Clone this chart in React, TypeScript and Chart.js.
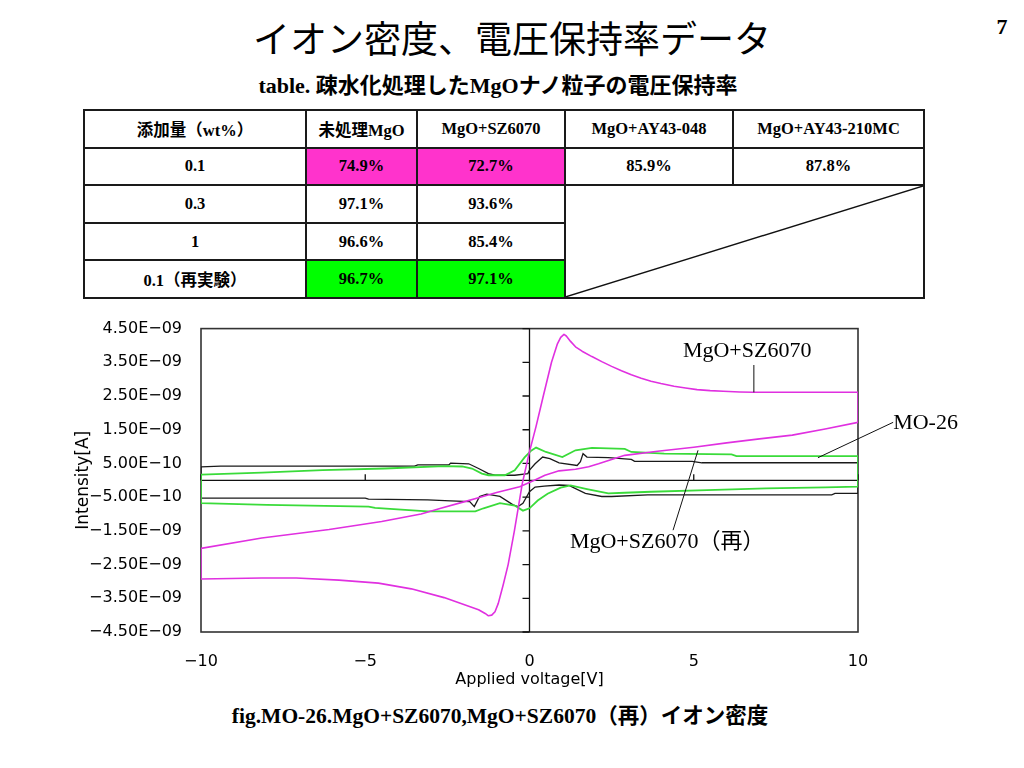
import React, { useEffect, useRef } from "react";
import { Chart, registerables } from "chart.js";

Chart.register(...registerables);

// ---------- slide texts ----------
const slideTitle = "イオン密度、電圧保持率データ";
const pageNumber = "7";
const tableTitle = "table. 疎水化処理したMgOナノ粒子の電圧保持率";
const figCaption = "fig.MO-26.MgO+SZ6070,MgO+SZ6070（再）イオン密度";

// ---------- table data ----------
const tableHeader = ["添加量（wt%）", "未処理MgO", "MgO+SZ6070", "MgO+AY43-048", "MgO+AY43-210MC"];
const rowLabels = ["0.1", "0.3", "1", "0.1（再実験）"];
const rowUntreated = ["74.9%", "97.1%", "96.6%", "96.7%"];
const rowSZ6070 = ["72.7%", "93.6%", "85.4%", "97.1%"];
const rowAY048 = ["85.9%"];
const rowAY210 = ["87.8%"];
const rowFill = ["#FF33CC", "#FFFFFF", "#FFFFFF", "#00FF00"];

// ---------- chart data (voltage in V, current in nA) ----------
// MgO+SZ6070 (magenta) loop
const magentaV = [
  -10, -8.15, -7.1, -5.8, -4.6, -3.6, -2.6, -1.55, -1.35, -1.25, -1.15, -1.05, -0.95, -0.8, -0.65, -0.46, -0.22, 0,
  0.2, 0.42, 0.67, 0.85, 0.95, 1.05, 1.12, 1.25, 1.4, 1.6, 1.9, 2.2, 2.5, 2.8, 3.1, 3.4, 3.7, 4.0, 4.4, 4.75, 5.1,
  5.5, 5.9, 6.4, 6.8, 10,
  10, 9, 8, 7, 6, 5, 3.9, 2.9, 2.5, 2.1, 1.8, 1.4, 0.9, 0.47, 0.15, -0.3, -1.0, -1.5, -2.0, -2.7, -3.3, -4.5, -6.1,
  -8.15, -10, -10,
];
const magentaI = [
  -2.93, -2.9, -2.9, -2.96, -3.05, -3.22, -3.48, -3.84, -3.95, -4.02, -4.0, -3.9, -3.65, -3.1, -2.5, -1.5, -0.1,
  0.85, 1.6, 2.5, 3.5, 4.05, 4.24, 4.33, 4.28, 4.12, 3.96, 3.83, 3.67, 3.52, 3.38, 3.25, 3.13, 3.03, 2.94, 2.87,
  2.79, 2.74, 2.69, 2.66, 2.64, 2.62, 2.61, 2.61,
  1.72, 1.52, 1.34, 1.23, 1.11, 0.98, 0.86, 0.74, 0.62, 0.49, 0.4, 0.33, 0.28, 0.15, 0.0, -0.19, -0.36, -0.5, -0.64,
  -0.83, -1.0, -1.22, -1.46, -1.71, -2.02, -2.93,
];

// MO-26 (black) loop
const blackV = [
  -10, -9.4, -3.5, -3.4, -2.45, -2.4, -1.85, -1.55, -1.25, -1.05, -0.45, -0.05, 0.0, 0.17, 0.4, 0.62, 0.9, 1.45,
  1.55, 1.63, 1.75, 2.4, 3.1, 3.2, 4.95, 5.25, 10,
  10, 9.3, 9.2, 3.6, 2.5, 2.2, 1.7, 1.2, 0.9, 0.45, 0.17, 0.0, -0.2, -0.35, -0.5, -0.9, -1.3, -1.52, -1.68, -1.82,
  -2.4, -3.1, -4.9, -5.0, -10, -10,
];
const blackI = [
  0.4, 0.42, 0.42, 0.46, 0.46, 0.51, 0.49, 0.35, 0.2, 0.15, 0.15, 0.2, 0.3, 0.49, 0.69, 0.64, 0.52, 0.44, 0.55,
  0.79, 0.69, 0.67, 0.62, 0.56, 0.56, 0.52, 0.52,
  -0.39, -0.39, -0.43, -0.43, -0.48, -0.48, -0.39, -0.15, -0.14, -0.17, -0.2, -0.34, -0.68, -0.78, -0.73, -0.48,
  -0.41, -0.48, -0.78, -0.63, -0.61, -0.58, -0.56, -0.53, -0.53, 0.4,
];

// MgO+SZ6070(再) (green) loop
const greenV = [
  -10, -8.15, -6.3, -4.4, -2.6, -2.05, -1.75, -1.45, -1.25, -0.75, -0.45, -0.15, 0.05, 0.2, 0.5, 1.0, 1.4, 1.9,
  2.9, 3.1, 4.1, 6.15, 6.3, 10,
  10, 9, 7.2, 5.4, 3.7, 2.9, 2.4, 1.75, 1.25, 0.95, 0.55, 0.25, 0, -0.2, -0.45, -0.9, -1.4, -1.65, -2.3, -3.1, -4.7,
  -4.9, -8.0, -10, -10,
];
const greenI = [
  0.17, 0.23, 0.3, 0.35, 0.42, 0.41, 0.35, 0.2, 0.15, 0.15, 0.3, 0.68, 0.88, 0.97, 0.84, 0.69, 0.89, 0.96, 0.93,
  0.84, 0.79, 0.77, 0.72, 0.72,
  -0.19, -0.21, -0.24, -0.29, -0.34, -0.37, -0.39, -0.26, -0.15, -0.22, -0.4, -0.6, -0.83, -0.9, -0.75, -0.68,
  -0.83, -0.92, -0.92, -0.92, -0.82, -0.78, -0.73, -0.68, 0.17,
];

// axes
const xTickValues = [-10, -5, 0, 5, 10];
const xTickLabels = ["\u221210", "\u22125", "0", "5", "10"];
const yTickValues = [4.5, 3.5, 2.5, 1.5, 0.5, -0.5, -1.5, -2.5, -3.5, -4.5];
const yTickLabels = [
  "4.50E\u221209", "3.50E\u221209", "2.50E\u221209", "1.50E\u221209", "5.00E\u221210",
  "\u22125.00E\u221210", "\u22121.50E\u221209", "\u22122.50E\u221209", "\u22123.50E\u221209", "\u22124.50E\u221209",
];
const xTitle = "Applied voltage[V]";
const yTitle = "Intensity[A]";

// annotations (data coordinates)
const annotationLabels = ["MgO+SZ6070", "MO-26", "MgO+SZ6070（再）"];
const annotationV = [4.67, 11.07, 1.23];
const annotationI = [3.83, 1.69, -1.83];
const leaderFromV = [6.83, 11.07, 4.37];
const leaderFromI = [3.42, 1.72, -1.48];
const leaderToV = [6.83, 8.78, 5.13];
const leaderToI = [2.61, 0.67, 0.89];

const SERIF = "'Liberation Serif', 'Noto Sans CJK JP', serif";
const GOTHIC = "'Noto Sans CJK JP', sans-serif";
const AXISFONT = "'DejaVu Sans', sans-serif";

const toPoints = (vs: number[], is: number[]) => vs.map((v, k) => ({ x: v, y: is[k] }));

const framePlugin = {
  id: "framePlugin",
  beforeDatasetsDraw(chart: any) {
    const { ctx, chartArea: a, scales } = chart;
    const x = scales.x;
    const y = scales.y;
    ctx.save();
    ctx.strokeStyle = "#333";
    ctx.lineWidth = 1.6;
    ctx.strokeRect(a.left, a.top, a.right - a.left, a.bottom - a.top);
    const x0 = x.getPixelForValue(0);
    const y0 = y.getPixelForValue(0);
    ctx.strokeStyle = "#111";
    ctx.lineWidth = 1.3;
    ctx.beginPath();
    ctx.moveTo(x0, a.top);
    ctx.lineTo(x0, a.bottom);
    ctx.moveTo(a.left, y0);
    ctx.lineTo(a.right, y0);
    yTickValues.forEach((v) => {
      const py = y.getPixelForValue(v);
      ctx.moveTo(x0 - 7, py);
      ctx.lineTo(x0, py);
    });
    xTickValues.forEach((v) => {
      const px = x.getPixelForValue(v);
      ctx.moveTo(px, y0 - 6);
      ctx.lineTo(px, y0);
    });
    ctx.stroke();
    ctx.restore();
  },
  afterDatasetsDraw(chart: any) {
    const { ctx, scales } = chart;
    const x = scales.x;
    const y = scales.y;
    ctx.save();
    ctx.strokeStyle = "#111";
    ctx.lineWidth = 1;
    ctx.beginPath();
    annotationLabels.forEach((_, k) => {
      ctx.moveTo(x.getPixelForValue(leaderFromV[k]), y.getPixelForValue(leaderFromI[k]));
      ctx.lineTo(x.getPixelForValue(leaderToV[k]), y.getPixelForValue(leaderToI[k]));
    });
    ctx.stroke();
    ctx.fillStyle = "#000";
    ctx.font = `22px ${SERIF}`;
    ctx.textAlign = "left";
    ctx.textBaseline = "middle";
    annotationLabels.forEach((t, k) => {
      ctx.fillText(t, x.getPixelForValue(annotationV[k]), y.getPixelForValue(annotationI[k]));
    });
    ctx.restore();
  },
};

function IVChart() {
  const ref = useRef<HTMLCanvasElement | null>(null);
  useEffect(() => {
    if (!ref.current) return;
    const tickFont = { family: AXISFONT, size: 16 };
    const chart = new Chart(ref.current, {
      type: "scatter",
      data: {
        datasets: [
          {
            data: toPoints(magentaV, magentaI),
            borderColor: "#E030E0",
            borderWidth: 1.6,
            pointRadius: 0,
            showLine: true,
            fill: false,
            borderJoinStyle: "round",
          },
          {
            data: toPoints(greenV, greenI),
            borderColor: "#3ADB3A",
            borderWidth: 1.8,
            pointRadius: 0,
            showLine: true,
            fill: false,
          },
          {
            data: toPoints(blackV, blackI),
            borderColor: "#1a1a1a",
            borderWidth: 1.3,
            pointRadius: 0,
            showLine: true,
            fill: false,
          },
        ],
      },
      options: {
        animation: false,
        responsive: false,
        layout: { padding: { left: 70, right: 166, top: 25, bottom: 0 } },
        plugins: { legend: { display: false }, tooltip: { enabled: false } },
        scales: {
          x: {
            type: "linear",
            min: -10,
            max: 10,
            grid: { display: false, drawTicks: false },
            border: { display: false },
            afterBuildTicks: (s: any) => {
              s.ticks = xTickValues.map((v) => ({ value: v }));
            },
            afterFit: (s: any) => {
              s.height = 68;
            },
            ticks: {
              autoSkip: false,
              maxRotation: 0,
              padding: 20,
              color: "#000",
              font: tickFont,
              callback: (_v: any, i: number) => xTickLabels[i],
            },
            title: {
              display: true,
              text: xTitle,
              color: "#000",
              font: tickFont,
              padding: { top: 0, bottom: 11 },
            },
          },
          y: {
            type: "linear",
            min: -4.5,
            max: 4.5,
            grid: { display: false, drawTicks: false },
            border: { display: false },
            afterBuildTicks: (s: any) => {
              s.ticks = yTickValues.map((v) => ({ value: v }));
            },
            afterFit: (s: any) => {
              s.width = 131;
            },
            ticks: {
              autoSkip: false,
              padding: 19,
              color: "#000",
              font: tickFont,
              callback: (_v: any, i: number) => yTickLabels[i],
            },
            title: {
              display: true,
              text: yTitle,
              color: "#000",
              font: { family: AXISFONT, size: 17 },
              padding: { top: 3, bottom: 0 },
            },
          },
        },
      },
      plugins: [framePlugin],
    } as any);
    return () => chart.destroy();
  }, []);
  return (
    <canvas
      ref={ref}
      width={1024}
      height={400}
      style={{ position: "absolute", left: 0, top: 300, width: 1024, height: 400 }}
    />
  );
}

const cellBase: React.CSSProperties = {
  border: "2px solid #1a1a1a",
  textAlign: "center",
  verticalAlign: "middle",
  padding: 0,
  fontFamily: SERIF,
  fontWeight: "bold",
  fontSize: 16.5,
  color: "#000",
  whiteSpace: "nowrap",
};

function DataTable() {
  const widths = [222, 111, 148, 168, 191];
  return (
    <table
      style={{
        position: "absolute",
        left: 83,
        top: 109,
        width: 840,
        height: 189,
        borderCollapse: "collapse",
        tableLayout: "fixed",
        background: "#fff",
      }}
    >
      <colgroup>
        {widths.map((w, k) => (
          <col key={k} style={{ width: w }} />
        ))}
      </colgroup>
      <tbody>
        <tr style={{ height: 37.6 }}>
          {tableHeader.map((h, k) => (
            <td key={k} style={cellBase}>
              {h}
            </td>
          ))}
        </tr>
        {rowLabels.map((lab, r) => (
          <tr key={r} style={{ height: 37.6 }}>
            <td style={cellBase}>{lab}</td>
            <td style={{ ...cellBase, background: rowFill[r] }}>{rowUntreated[r]}</td>
            <td style={{ ...cellBase, background: rowFill[r] }}>{rowSZ6070[r]}</td>
            {r === 0 ? (
              <>
                <td style={cellBase}>{rowAY048[0]}</td>
                <td style={cellBase}>{rowAY210[0]}</td>
              </>
            ) : null}
            {r === 1 ? (
              <td rowSpan={3} colSpan={2} style={{ ...cellBase, position: "relative" }}>
                <svg
                  viewBox="0 0 100 100"
                  preserveAspectRatio="none"
                  style={{ position: "absolute", left: 0, top: 0, width: "100%", height: "100%" }}
                >
                  <line x1="0" y1="100" x2="100" y2="0" stroke="#111" strokeWidth="1.4" vectorEffect="non-scaling-stroke" />
                </svg>
              </td>
            ) : null}
          </tr>
        ))}
      </tbody>
    </table>
  );
}

export default function App() {
  return (
    <div
      style={{
        position: "absolute",
        left: 0,
        top: 0,
        width: 1024,
        height: 768,
        background: "#fff",
        overflow: "hidden",
      }}
    >
      <div
        style={{
          position: "absolute",
          left: 0,
          top: 19,
          width: 1024,
          textAlign: "center",
          fontFamily: GOTHIC,
          fontSize: 37,
          lineHeight: "37px",
          color: "#000",
          whiteSpace: "nowrap",
        }}
      >
        {slideTitle}
      </div>
      <div
        style={{
          position: "absolute",
          left: 990,
          top: 16,
          width: 24,
          textAlign: "center",
          fontFamily: SERIF,
          fontWeight: "bold",
          fontSize: 22,
          lineHeight: "22px",
        }}
      >
        {pageNumber}
      </div>
      <div
        style={{
          position: "absolute",
          left: 0,
          top: 75,
          width: 996,
          textAlign: "center",
          fontFamily: SERIF,
          fontWeight: "bold",
          fontSize: 22,
          lineHeight: "22px",
          whiteSpace: "nowrap",
        }}
      >
        {tableTitle}
      </div>
      <DataTable />
      <IVChart />
      <div
        style={{
          position: "absolute",
          left: 0,
          top: 705,
          width: 1000,
          textAlign: "center",
          fontFamily: SERIF,
          fontWeight: "bold",
          fontSize: 21.5,
          lineHeight: "22px",
          whiteSpace: "nowrap",
        }}
      >
        {figCaption}
      </div>
    </div>
  );
}
